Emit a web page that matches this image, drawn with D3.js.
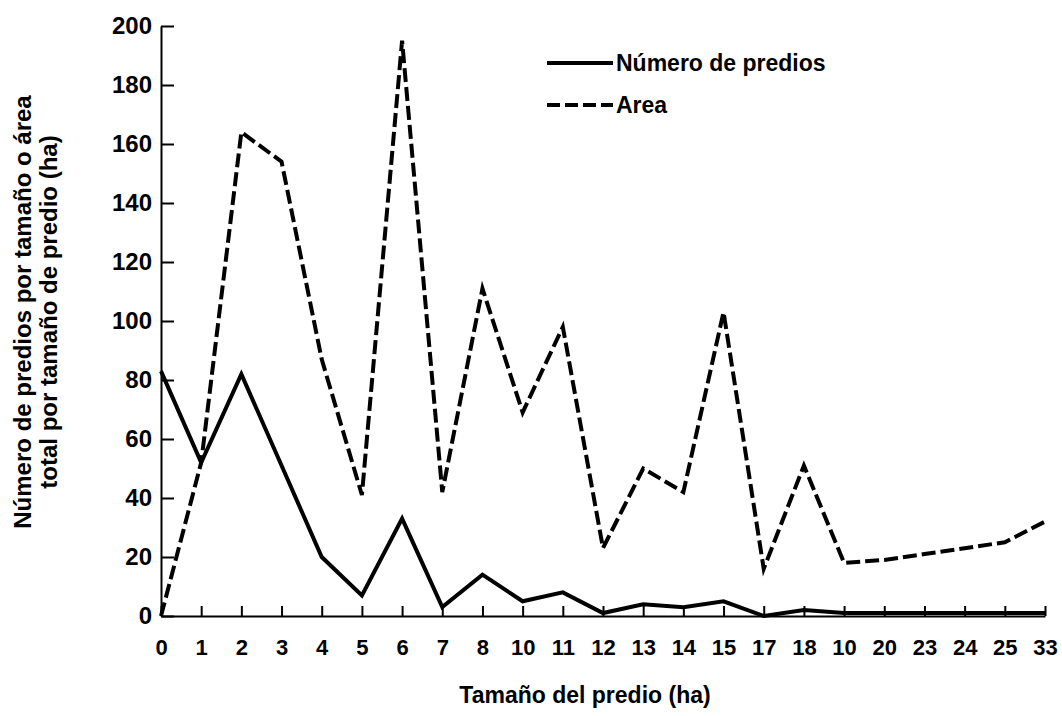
<!DOCTYPE html>
<html>
<head>
<meta charset="utf-8">
<script src="https://cdn.jsdelivr.net/npm/d3@7"></script>
<style>
  body { margin: 0; background: #fff; }
  svg text { font-family: "Liberation Sans", Arial, sans-serif; font-weight: bold; fill: #000; }
</style>
</head>
<body>
<div id="chart"></div>
<script>
const width = 1062;
const height = 716;

// x categories (tamaño del predio, ha) as printed on the axis
const sizeLabels = ["0", "1", "2", "3", "4", "5", "6", "7", "8", "10", "11", "12",
    "13", "14", "15", "17", "18", "10", "20", "23", "24", "25", "33"];

// Número de predios
const numPredios = [83, 52, 82, 51, 20, 7, 33, 3, 14, 5, 8, 1,
    4, 3, 5, 0, 2, 1, 1, 1, 1, 1, 1];

// Area
const areaValues = [0, 52, 164, 154, 87, 41, 195, 42, 111, 69, 98, 23,
    50, 42, 103, 16, 51, 18, 19, 21, 23, 25, 32];

const yTicks = [0, 20, 40, 60, 80, 100, 120, 140, 160, 180, 200];

const legendItems = [
    { label: "Número de predios", dash: null },
    { label: "Area", dash: "13,5" }
];

const margin = { left: 161, right: 17, top: 26, bottom: 100 };

const svg = d3.select("#chart")
    .append("svg")
    .attr("width", width)
    .attr("height", height);

const x = d3.scalePoint()
    .domain(d3.range(sizeLabels.length))
    .range([margin.left, width - margin.right]);

const y = d3.scaleLinear()
    .domain([0, 200])
    .range([height - margin.bottom, margin.top]);

// axes
const yAxis = svg.append("g")
    .attr("transform", `translate(${margin.left},0)`)
    .call(d3.axisLeft(y)
        .tickValues(yTicks)
        .tickSizeInner(-13)
        .tickSizeOuter(0)
        .tickPadding(9));

const xAxis = svg.append("g")
    .attr("transform", `translate(0,${y(0)})`)
    .call(d3.axisBottom(x)
        .tickFormat(i => sizeLabels[i])
        .tickSizeInner(-10)
        .tickSizeOuter(0)
        .tickPadding(23));

[yAxis, xAxis].forEach(g => {
    g.select(".domain").attr("stroke", "#000").attr("stroke-width", 2);
    g.selectAll(".tick line").attr("stroke", "#000").attr("stroke-width", 2);
});
yAxis.selectAll(".tick text").style("font-size", "24px");
xAxis.selectAll(".tick text").style("font-size", "22px");

// lines
const line = d3.line()
    .x((d, i) => x(i))
    .y(d => y(d));

svg.append("path")
    .datum(numPredios)
    .attr("fill", "none")
    .attr("stroke", "#000")
    .attr("stroke-width", 4)
    .attr("d", line);

svg.append("path")
    .datum(areaValues)
    .attr("fill", "none")
    .attr("stroke", "#000")
    .attr("stroke-width", 4)
    .attr("stroke-dasharray", "14,5")
    .attr("d", line);

// legend
const legend = svg.append("g")
    .attr("transform", "translate(547,63)");

legendItems.forEach((item, i) => {
    const row = legend.append("g")
        .attr("transform", `translate(0,${i * 42})`);
    row.append("line")
        .attr("x1", 0)
        .attr("x2", 66)
        .attr("stroke", "#000")
        .attr("stroke-width", 4)
        .attr("stroke-dasharray", item.dash);
    row.append("text")
        .attr("x", 69)
        .attr("dy", "0.36em")
        .style("font-size", "23px")
        .text(item.label);
});

// axis titles
svg.append("text")
    .attr("x", 585)
    .attr("y", 703)
    .attr("text-anchor", "middle")
    .style("font-size", "23px")
    .text("Tamaño del predio (ha)");

const yTitle = svg.append("text")
    .attr("transform", "translate(31,312) rotate(-90)")
    .attr("text-anchor", "middle")
    .style("font-size", "24px");

yTitle.append("tspan")
    .attr("x", 0)
    .attr("y", 0)
    .text("Número de predios por tamaño o área");

yTitle.append("tspan")
    .attr("x", 0)
    .attr("y", 26)
    .text("total por tamaño de predio (ha)");
</script>
</body>
</html>
